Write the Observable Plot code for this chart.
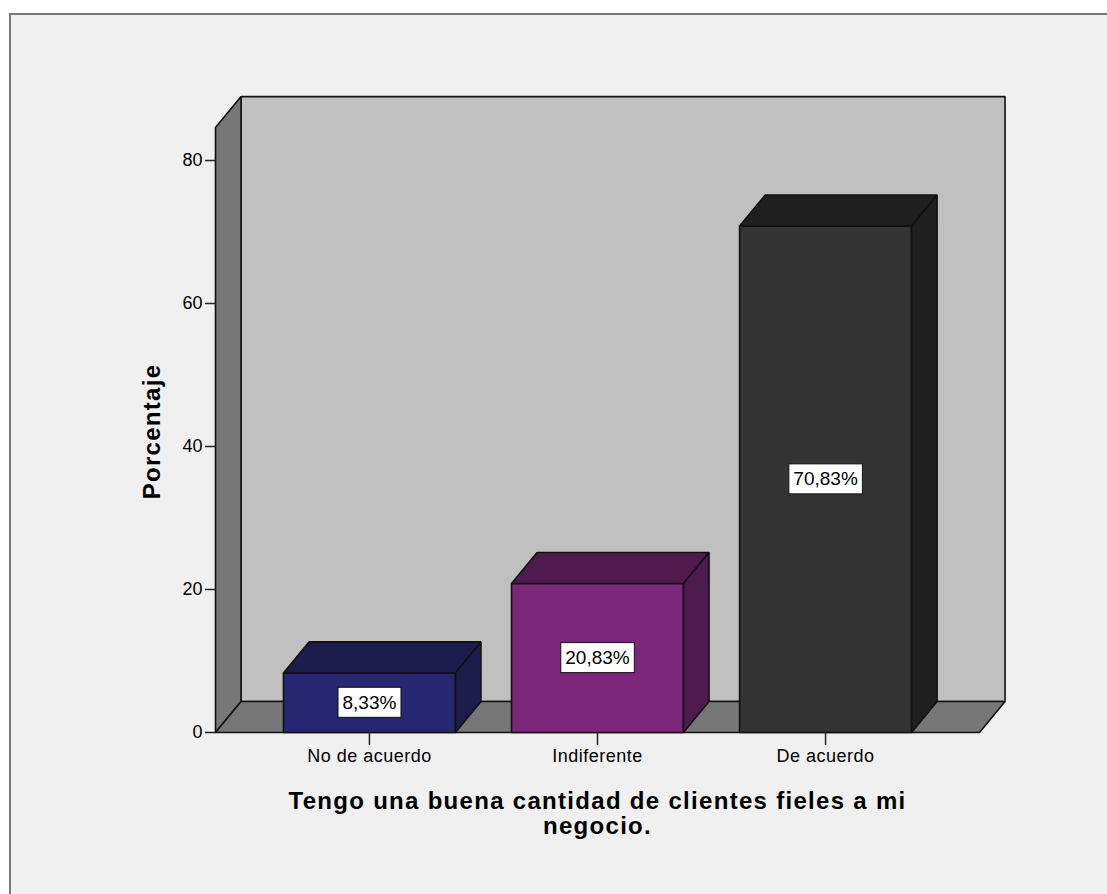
<!DOCTYPE html>
<html><head><meta charset="utf-8">
<script src="https://cdn.jsdelivr.net/npm/d3@7"></script>
<script src="https://cdn.jsdelivr.net/npm/@observablehq/plot@0.6"></script>
<style>
html,body{margin:0;padding:0;background:#fff;overflow:hidden;width:1107px;height:894px;}
#frame{position:absolute;left:9px;top:13px;width:1120px;height:900px;border-left:2px solid #777;border-top:2px solid #777;background:#f0f0f0;}
#chart{position:absolute;left:0;top:0;}
</style></head><body>
<div id="frame"></div><div id="chart"></div>
<script>
// ---- data ----
const categories = ["No de acuerdo", "Indiferente", "De acuerdo"];
const percentages = [8.33, 20.83, 70.83];
const valueLabels = ["8,33%", "20,83%", "70,83%"];
const frontColors = ["#262673", "#7b2679", "#333333"];
const shadeColors = ["#1c1c4c", "#4f1a4d", "#1f1f1f"];
const yTicks = [0, 20, 40, 60, 80];
const yTitle = "Porcentaje";
const xTitle = "Tengo una buena cantidad de clientes fieles a mi\nnegocio.";

// ---- 3D geometry in data units ----
const xMin = -0.675, xMax = 2.675;   // x extent of the floor (category index units)
const halfW = 0.377;                  // half bar width
const dX = 0.112, dY = 4.34;          // depth offset
const wallTop = 84.6;                 // front top of the side wall

const faces = [];
function poly(id, fill, pts) {
  pts.concat([pts[0]]).forEach(([x, y]) => faces.push({id, fill, x, y}));
}
poly("back", "#c0c0c0", [[xMin + dX, dY], [xMax + dX, dY], [xMax + dX, wallTop + dY], [xMin + dX, wallTop + dY]]);
poly("left", "#777777", [[xMin, 0], [xMin, wallTop], [xMin + dX, wallTop + dY], [xMin + dX, dY]]);
poly("floor", "#777777", [[xMin, 0], [xMax, 0], [xMax + dX, dY], [xMin + dX, dY]]);
percentages.forEach((v, i) => {
  const a = i - halfW, b = i + halfW;
  poly("front" + i, frontColors[i], [[a, 0], [b, 0], [b, v], [a, v]]);
  poly("top" + i, shadeColors[i], [[a, v], [b, v], [b + dX, v + dY], [a + dX, v + dY]]);
  poly("side" + i, shadeColors[i], [[b, 0], [b, v], [b + dX, v + dY], [b + dX, dY]]);
});

const chart = Plot.plot({
  width: 1107, height: 894,
  marginLeft: 215, marginRight: 128, marginTop: 160, marginBottom: 162,
  style: {background: "transparent", fontFamily: "'Liberation Sans', Arial, sans-serif", fontSize: "18px", color: "#000"},
  x: {domain: [xMin, xMax]},
  y: {domain: [0, 80]},
  color: {type: "identity"},
  marks: [
    Plot.line(faces, {x: "x", y: "y", z: "id", fill: "fill", stroke: "#111", strokeWidth: 1.6, strokeLinejoin: "miter"}),
    Plot.axisY({ticks: yTicks, tickSize: 10, tickPadding: 3, label: null, stroke: "#222", strokeWidth: 1.5, fontSize: 18}),
    Plot.axisX({ticks: [0, 1, 2], tickFormat: i => categories[i], tickSize: 13, tickPadding: 4, label: null, stroke: "#222", strokeWidth: 1.5, fontSize: 18}),
    Plot.text(percentages, {x: (d, i) => i, y: d => d / 2, text: (d, i) => valueLabels[i], fontSize: 19, fill: "#000"}),
    Plot.text([yTitle], {frameAnchor: "left", textAnchor: "middle", lineAnchor: "middle", dx: -63, dy: -15, rotate: -90, fontSize: 24, fontWeight: "bold"}),
    Plot.text([xTitle], {frameAnchor: "bottom", textAnchor: "middle", lineAnchor: "middle", dy: 81, fontSize: 24, fontWeight: "bold", lineHeight: 1.05})
  ]
});
document.getElementById("chart").appendChild(chart);

// letter spacing of the titles and category labels, white boxes behind the value labels
chart.querySelectorAll("text").forEach(t => {
  const s = t.textContent;
  if (s === yTitle || s.startsWith("Tengo")) t.style.letterSpacing = "1.3px";
  if (categories.includes(s)) t.style.letterSpacing = "0.5px";
  if (valueLabels.includes(s)) {
    const bb = t.getBBox();
    const padX = 4.5, padY = 4.5;
    const r = document.createElementNS("http://www.w3.org/2000/svg", "rect");
    r.setAttribute("x", bb.x - padX); r.setAttribute("y", bb.y - padY);
    r.setAttribute("width", bb.width + 2 * padX); r.setAttribute("height", bb.height + 2 * padY);
    if (t.getAttribute("transform")) r.setAttribute("transform", t.getAttribute("transform"));
    r.setAttribute("fill", "#fff"); r.setAttribute("stroke", "#111"); r.setAttribute("stroke-width", "1");
    t.parentNode.insertBefore(r, t);
  }
});
</script>
</body></html>
